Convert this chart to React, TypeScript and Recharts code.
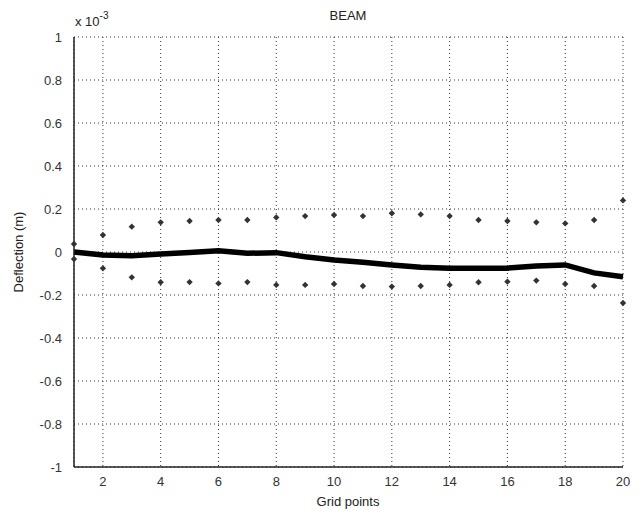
import React from 'react';
import { ComposedChart, Line, Scatter, XAxis, YAxis, CartesianGrid } from 'recharts';

const gridPoints = [1, 2, 3, 4, 5, 6, 7, 8, 9, 10, 11, 12, 13, 14, 15, 16, 17, 18, 19, 20];
const meanDeflection = [0.0, -0.014, -0.017, -0.009, -0.002, 0.006, -0.006, -0.003, -0.022, -0.037, -0.048, -0.06, -0.071, -0.075, -0.075, -0.075, -0.065, -0.06, -0.097, -0.115];
const upperDeflection = [0.037, 0.079, 0.118, 0.138, 0.144, 0.149, 0.149, 0.161, 0.167, 0.172, 0.167, 0.18, 0.175, 0.167, 0.149, 0.144, 0.138, 0.133, 0.149, 0.24];
const lowerDeflection = [-0.033, -0.076, -0.118, -0.141, -0.14, -0.146, -0.14, -0.153, -0.153, -0.149, -0.158, -0.161, -0.158, -0.153, -0.141, -0.138, -0.133, -0.149, -0.158, -0.237];
const xTicks = [2, 4, 6, 8, 10, 12, 14, 16, 18, 20];
const yTicks = [-1, -0.8, -0.6, -0.4, -0.2, 0, 0.2, 0.4, 0.6, 0.8, 1];

const data = gridPoints.map((x, i) => ({
  x,
  mean: meanDeflection[i],
  upper: upperDeflection[i],
  lower: lowerDeflection[i],
}));

const font = '"Liberation Sans", Arial, sans-serif';
const tickStyle = { fontSize: 13, fill: '#333', fontFamily: font };
const fmt = (v: number) => String(Math.round(v * 10) / 10);
const blank = () => '';

const Diamond = (props: any) => {
  const { cx, cy } = props;
  if (cx == null || cy == null) return null;
  const r = 3.2;
  return <path d={`M${cx},${cy - r}L${cx + r},${cy}L${cx},${cy + r}L${cx - r},${cy}Z`} fill="#333" />;
};

export default function App() {
  return (
    <div style={{ position: 'absolute', left: 0, top: 0, width: 642, height: 515, background: '#fff', fontFamily: font }}>
      <ComposedChart
        width={642}
        height={515}
        data={data}
        margin={{ top: 37, right: 19, bottom: 18, left: 24 }}
      >
        <CartesianGrid xAxisId="b" yAxisId="l" stroke="#333" strokeDasharray="1 3" strokeWidth={1} />
        <XAxis
          xAxisId="bm"
          dataKey="x"
          type="number"
          domain={[1, 20]}
          ticks={xTicks}
          interval={0}
          height={0}
          mirror
          tickSize={5}
          tickFormatter={blank}
          axisLine={false}
          stroke="#222"
          strokeWidth={1.5}
        />
        <XAxis
          xAxisId="b"
          dataKey="x"
          type="number"
          domain={[1, 20]}
          ticks={xTicks}
          interval={0}
          height={30}
          tickLine={false}
          tickMargin={4}
          tick={tickStyle}
          stroke="#222"
          strokeWidth={1.5}
        />
        <XAxis
          xAxisId="t"
          orientation="top"
          dataKey="x"
          type="number"
          domain={[1, 20]}
          ticks={xTicks}
          interval={0}
          height={0}
          mirror
          tickSize={5}
          tickFormatter={blank}
          stroke="#222"
          strokeWidth={1.5}
        />
        <YAxis
          yAxisId="lm"
          type="number"
          domain={[-1, 1]}
          ticks={yTicks}
          interval={0}
          width={0}
          mirror
          tickSize={5}
          tickFormatter={blank}
          axisLine={false}
          stroke="#222"
          strokeWidth={1.5}
        />
        <YAxis
          yAxisId="l"
          type="number"
          domain={[-1, 1]}
          ticks={yTicks}
          interval={0}
          width={50}
          tickLine={false}
          tickMargin={6}
          tick={tickStyle}
          tickFormatter={fmt}
          stroke="#222"
          strokeWidth={1.5}
        />
        <YAxis
          yAxisId="r"
          orientation="right"
          type="number"
          domain={[-1, 1]}
          ticks={yTicks}
          interval={0}
          width={0}
          mirror
          tickSize={5}
          tickFormatter={blank}
          stroke="#222"
          strokeWidth={1.5}
        />
        <Line
          xAxisId="b"
          yAxisId="l"
          dataKey="mean"
          type="linear"
          stroke="#000"
          strokeWidth={5.5}
          dot={false}
          isAnimationActive={false}
        />
        <Scatter xAxisId="b" yAxisId="l" dataKey="upper" shape={<Diamond />} legendType="none" isAnimationActive={false} />
        <Scatter xAxisId="b" yAxisId="l" dataKey="lower" shape={<Diamond />} legendType="none" isAnimationActive={false} />
      </ComposedChart>
      <div style={{ position: 'absolute', left: 348, top: 8, transform: 'translateX(-50%)', fontSize: 13, color: '#222' }}>BEAM</div>
      <div style={{ position: 'absolute', left: 75, top: 12, fontSize: 13, color: '#222', whiteSpace: 'nowrap' }}>
        x 10<sup style={{ fontSize: 10, position: 'relative', top: -2 }}>-3</sup>
      </div>
      <div style={{ position: 'absolute', left: 348, top: 494, transform: 'translateX(-50%)', fontSize: 13, lineHeight: '15px', color: '#222', whiteSpace: 'nowrap' }}>Grid points</div>
      <div style={{ position: 'absolute', left: 18, top: 252, transform: 'translate(-50%, -50%) rotate(-90deg)', fontSize: 13, color: '#222', whiteSpace: 'nowrap' }}>Deflection (m)</div>
    </div>
  );
}
